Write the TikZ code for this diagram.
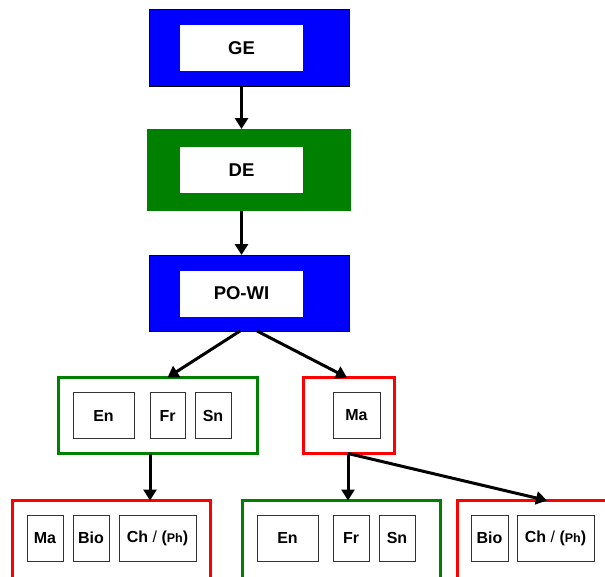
\documentclass[tikz,border=0pt]{standalone}
\usepackage{fontspec}
\setsansfont{Liberation Sans}
\usepackage{tikz}
\usetikzlibrary{arrows.meta}

\definecolor{dkgreen}{RGB}{0,128,0}
\newcommand{\chph}{Ch {\mdseries/} ({\fontsize{12.5}{14}\selectfont Ph})}

\begin{document}
\begin{tikzpicture}[
   x=1pt,y=-1pt,
   font=\sffamily\bfseries\fontsize{16}{18}\selectfont,
   every node/.style={inner sep=0pt,outer sep=0pt},
   topbox/.style={fill=blue,draw=black,line width=0.8pt,minimum width=200pt,minimum height=77pt},
   toplabel/.style={fill=white,minimum width=123pt,minimum height=46pt,font=\sffamily\bfseries\fontsize{18.5}{20}\selectfont},
   group/.style={draw=#1,line width=3pt,fill=white,minimum height=76pt},
   subj/.style={draw=black!80,line width=0.9pt,minimum height=46pt},
   to/.style={-{Triangle[length=11pt,width=13pt]},line width=3pt}]
\useasboundingbox (0,0) rectangle (605,576);
\clip (0,0) rectangle (605,576);
\node[topbox] (ge) at (249,47.5) {};
\node[toplabel] (geText) at (241.5,48) {GE};
\node[topbox,draw=none,fill=dkgreen,minimum width=204pt,minimum height=82pt] (de) at (249,170) {};
\node[toplabel] (deText) at (241.5,170) {DE};
\node[topbox,minimum height=76pt] (powi) at (249,293) {};
\node[toplabel] (powiText) at (241.5,293.5) {PO-WI};
\node[group=dkgreen,minimum width=199pt] (lang) at (157.5,415.5) {};
\node[subj,minimum width=61pt] (langEn) at (103.5,415.5) {En};
\node[subj,minimum width=35pt] (langFr) at (167.5,415.5) {Fr};
\node[subj,minimum width=36pt] (langSn) at (213,415.5) {Sn};
\node[group=red,minimum width=91pt] (math) at (349,415.5) {};
\node[subj,minimum width=47pt] (mathMa) at (356.5,415.5) {Ma};
\node[group=red,minimum width=198pt,minimum height=84pt] (sci) at (111.5,542.5) {};
\node[subj,minimum width=36pt] (sciMa) at (45,538) {Ma};
\node[subj,minimum width=36pt] (sciBio) at (91,538) {Bio};
\node[subj,minimum width=77pt] (sciCh) at (157.5,538) {\chph};
\node[group=dkgreen,minimum width=198pt,minimum height=84pt] (lang2) at (341.5,542.5) {};
\node[subj,minimum width=61pt] (lang2En) at (287.5,538) {En};
\node[subj,minimum width=36pt] (lang2Fr) at (351,538) {Fr};
\node[subj,minimum width=36pt] (lang2Sn) at (397,538) {Sn};
\node[group=red,minimum width=155pt,minimum height=84pt] (sci2) at (535,542.5) {};
\node[subj,minimum width=37pt] (sci2Bio) at (489.5,538) {Bio};
\node[subj,minimum width=77pt] (sci2Ch) at (555.5,538) {\chph};
\draw[to] (ge.south -| geText) -- (de.north -| geText);
\draw[to] (de.south -| deText) -- (powi.north -| deText);
\draw[to] ([xshift=-9pt]powi.south) -- ([xshift=10pt]lang.north);
\draw[to] ([xshift=8pt]powi.south) -- ([xshift=-2pt]math.north);
\draw[to] ([xshift=-7.5pt]lang.south) -- ([xshift=-7.5pt]lang.south |- sci.north);
\draw[to] ([xshift=-1pt]math.south) -- ([xshift=-1pt]math.south |- lang2.north);
\draw[to] ([xshift=-1pt]math.south) -- ([xshift=12pt]sci2.north);
\end{tikzpicture}
\end{document}
